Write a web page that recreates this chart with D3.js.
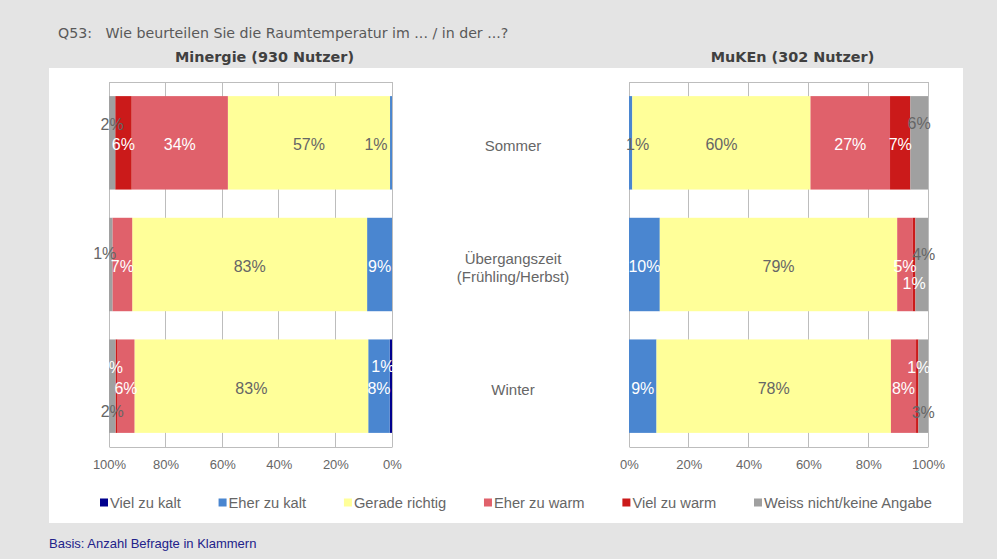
<!DOCTYPE html>
<html>
<head>
<meta charset="utf-8">
<script src="https://cdn.jsdelivr.net/npm/d3@7"></script>
<style>
  body { margin: 0; background: #e4e4e4; }
  svg { display: block; }
</style>
</head>
<body>
<div id="chart"></div>
<script>
// Q53 Raumtemperatur — Minergie vs. MuKEn, 100% stacked bars
const seasons = ['Sommer', 'Übergangszeit', 'Winter'];
const seasonLines = [['Sommer'], ['Übergangszeit', '(Frühling/Herbst)'], ['Winter']];
const categories = ['Viel zu kalt', 'Eher zu kalt', 'Gerade richtig', 'Eher zu warm', 'Viel zu warm', 'Weiss nicht/keine Angabe'];
const colors = ['#00008e', '#4a86d0', '#ffff99', '#e0616b', '#cb1a1a', '#a0a0a0'];
const percentTicks = [0, 20, 40, 60, 80, 100];

// shares in %, order = categories
const minergieSommer = [0, 0.7, 57.3, 34.0, 5.8, 2.2];
const minergieUebergang = [0, 8.8, 83.0, 7.0, 0, 1.2];
const minergieWinter = [0.8, 7.6, 82.6, 6.0, 0.7, 2.3];
const mukenSommer = [0, 1.1, 59.6, 26.6, 6.8, 5.9];
const mukenUebergang = [0, 10.3, 79.4, 5.2, 0.9, 4.2];
const mukenWinter = [0, 9.2, 78.4, 8.4, 0.8, 3.2];

const W = 997, H = 559;
const svg = d3.select('#chart').append('svg').attr('width', W).attr('height', H);

svg.append('rect').attr('width', W).attr('height', H).attr('fill', '#e4e4e4');
svg.append('rect').attr('x', 49).attr('y', 68).attr('width', 914).attr('height', 455).attr('fill', '#fff');

svg.append('text').attr('x', 58).attr('y', 38)
  .attr('font-family', 'DejaVu Sans').attr('font-size', 14.2).attr('fill', '#595959')
  .attr('xml:space', 'preserve')
  .text('Q53:   Wie beurteilen Sie die Raumtemperatur im ... / in der ...?');

const y = d3.scaleBand().domain(seasons).range([82, 447]).paddingInner(0.232).paddingOuter(0.116);
const labelFont = 'Liberation Sans, Arial, sans-serif';

// label tweaks where Excel labels were moved by hand
const nudge = {
  'L|Sommer|Eher zu kalt': { dx: -15, fill: '#666' },
  'L|Sommer|Weiss nicht/keine Angabe': { dx: 0, dy: -20 },
  'L|Übergangszeit|Weiss nicht/keine Angabe': { dx: -6, dy: -13 },
  'L|Winter|Viel zu warm': { dx: -5, dy: -21 },
  'L|Winter|Weiss nicht/keine Angabe': { dy: 23 },
  'L|Winter|Viel zu kalt': { dx: -8, dy: -22 },
  'R|Sommer|Eher zu kalt': { dx: 7, fill: '#666' },
  'R|Sommer|Weiss nicht/keine Angabe': { dy: -21 },
  'R|Übergangszeit|Viel zu warm': { dy: 17 },
  'R|Übergangszeit|Weiss nicht/keine Angabe': { dx: 2, dy: -12 },
  'R|Winter|Viel zu warm': { dx: 1.5, dy: -21 },
  'R|Winter|Weiss nicht/keine Angabe': { dy: 24 },
};

function drawPanel(side, title, rows, range) {
  const x = d3.scaleLinear().domain([0, 100]).range(range);
  const g = svg.append('g');
  const [y0, y1] = y.range();

  g.append('text').attr('x', d3.mean(range) + 14).attr('y', 62).attr('text-anchor', 'middle')
    .attr('font-family', 'DejaVu Sans').attr('font-weight', 'bold').attr('font-size', 14.4)
    .attr('fill', '#404040').text(title);

  // gridlines + top frame
  g.selectAll('.grid').data(percentTicks).join('line')
    .attr('x1', d => x(d)).attr('x2', d => x(d)).attr('y1', y0).attr('y2', y1)
    .attr('stroke', '#bdbdbd').attr('stroke-width', 1).attr('shape-rendering', 'crispEdges');
  g.append('line').attr('x1', range[0]).attr('x2', range[1]).attr('y1', y0).attr('y2', y0)
    .attr('stroke', '#bdbdbd').attr('shape-rendering', 'crispEdges');

  const table = seasons.map((s, i) => {
    const o = { season: s };
    categories.forEach((c, j) => { o[c] = rows[i][j]; });
    return o;
  });
  const stacked = d3.stack().keys(categories)(table);

  stacked.forEach((layer, li) => {
    g.append('g').selectAll('rect').data(layer).join('rect')
      .attr('x', d => Math.min(x(d[0]), x(d[1])))
      .attr('width', d => Math.abs(x(d[1]) - x(d[0])))
      .attr('y', d => y(d.data.season))
      .attr('height', y.bandwidth())
      .attr('fill', colors[li]);
  });

  stacked.forEach((layer, li) => {
    const cat = categories[li];
    g.append('g').selectAll('text').data(layer.filter(d => d[1] - d[0] > 0)).join('text')
      .each(function (d) {
        const n = nudge[`${side}|${d.data.season}|${cat}`] || {};
        const light = li === 2 || li === 5;
        d3.select(this)
          .attr('x', (x(d[0]) + x(d[1])) / 2 + (n.dx || 0))
          .attr('y', y(d.data.season) + y.bandwidth() / 2 + 2 + (n.dy || 0))
          .attr('fill', n.fill || (light ? '#666' : '#fff'));
      })
      .attr('text-anchor', 'middle').attr('dominant-baseline', 'central')
      .attr('font-family', labelFont).attr('font-size', 16)
      .text(d => Math.round(d[1] - d[0]) + '%');
  });

  // axis
  const axis = g.append('g').attr('transform', `translate(0,${y1})`)
    .call(d3.axisBottom(x).tickValues(percentTicks).tickFormat(d => d + '%').tickSize(0).tickPadding(13));
  axis.select('.domain').attr('stroke', '#bdbdbd');
  axis.selectAll('text').attr('font-family', labelFont)
    .attr('font-size', 13).attr('fill', '#666');
}

drawPanel('L', 'Minergie (930 Nutzer)', [minergieSommer, minergieUebergang, minergieWinter], [392, 109]);
drawPanel('R', 'MuKEn (302 Nutzer)', [mukenSommer, mukenUebergang, mukenWinter], [629, 928]);

// season labels between the panels
seasonLines.forEach((lines, i) => {
  const cy = y(seasons[i]) + y.bandwidth() / 2 + 3;
  lines.forEach((t, k) => {
    svg.append('text').attr('x', 513).attr('y', cy + (k - (lines.length - 1) / 2) * 18.5)
      .attr('text-anchor', 'middle').attr('dominant-baseline', 'central')
      .attr('font-family', labelFont).attr('font-size', 15)
      .attr('fill', '#666').text(t);
  });
});

// legend
const leg = svg.append('g');
let lx = 100;
categories.forEach((c, i) => {
  leg.append('rect').attr('x', lx).attr('y', 498.5).attr('width', 8).attr('height', 8).attr('fill', colors[i]);
  const t = leg.append('text').attr('x', lx + 10).attr('y', 502.5).attr('dominant-baseline', 'central')
    .attr('font-family', labelFont).attr('font-size', 14.7)
    .attr('fill', '#666').text(c);
  lx += 10 + t.node().getComputedTextLength() + 37.8;
});

svg.append('text').attr('x', 49).attr('y', 543).attr('dominant-baseline', 'central')
  .attr('font-family', labelFont).attr('font-size', 13)
  .attr('fill', '#22228a').text('Basis: Anzahl Befragte in Klammern');
</script>
</body>
</html>
